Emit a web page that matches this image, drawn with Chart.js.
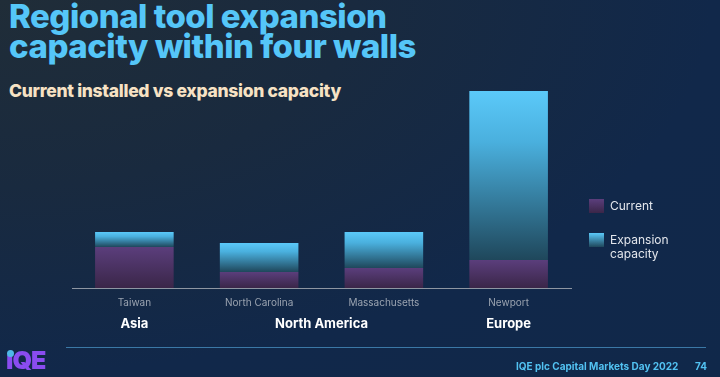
<!DOCTYPE html>
<html>
<head>
<meta charset="utf-8">
<script src="https://cdn.jsdelivr.net/npm/chart.js@4"></script>
<style>
  html, body { margin: 0; padding: 0; }
  body {
    width: 720px; height: 377px; overflow: hidden; position: relative;
    background: radial-gradient(ellipse at 0 0, #202d38 0%, #192a3f 35%, #11284a 70%, #10284a 100%);
    font-family: Inter, "Open Sans", sans-serif;
  }
  #titulo {
    position: absolute; left: 9px; top: 1px; margin: 0;
    font-size: 33px; line-height: 30px; font-weight: 800; color: #55c6f8;
    letter-spacing: -0.5px;
  }
  #subtitulo {
    position: absolute; left: 9px; top: 80px; margin: 0;
    font-size: 17.5px; font-weight: 800; color: #f7e2c4; letter-spacing: -0.3px;
  }
  #grafico { position: absolute; left: 0; top: 0; }
  .region {
    position: absolute; top: 315px; transform: translateX(-50%);
    color: #fff; font-size: 13px; font-weight: 700; white-space: nowrap;
  }
  .leyenda { position: absolute; left: 589px; color: #e3e6ec; font-size: 12px; line-height: 14px; }
  .leyenda span.caja { position: absolute; left: 0; top: 0; width: 15px; height: 14px; }
  .leyenda span.txt { position: absolute; left: 21px; top: 0; white-space: nowrap; }
  #pie-linea { position: absolute; left: 66px; top: 347px; width: 640px; height: 1px; background: #3b78a6; }
  #pie-texto { position: absolute; left: 516px; top: 360px; color: #52c2f2; font-size: 10px; font-weight: 700; white-space: nowrap; }
  #pie-num { position: absolute; left: 695px; top: 360px; color: #52c2f2; font-size: 10px; font-weight: 700; }
  #logo { position: absolute; left: 6px; top: 345px; font-size: 25px; font-weight: 900; color: #8a4cf0; letter-spacing: -1px; }
  #logo .punto { position: absolute; left: 1px; top: 5px; width: 7px; height: 7px; border-radius: 50%; background: #4fb8e8; }
</style>
</head>
<body>
<div id="titulo">Regional tool expansion<br>capacity within four walls</div>
<div id="subtitulo">Current installed vs expansion capacity</div>
<canvas id="grafico" width="720" height="377"></canvas>
<div id="regiones"></div>
<div class="leyenda" style="top:199px"><span class="caja" style="background:linear-gradient(#5b3e7c,#3a2648)"></span><span class="txt">Current</span></div>
<div class="leyenda" style="top:233px"><span class="caja" style="background:linear-gradient(#5bc9f9,#1f475b)"></span><span class="txt">Expansion<br>capacity</span></div>
<div id="pie-linea"></div>
<div id="logo"><span class="punto"></span>ıQE</div>
<div id="pie-texto">IQE plc Capital Markets Day 2022</div>
<div id="pie-num">74</div>
<script>
// Datos
const sitios = ['Taiwan', 'North Carolina', 'Massachusetts', 'Newport'];
const actual = [41, 16, 20, 28];
const expansion = [15, 29, 36, 169];
// Regiones: nombre y posición (índice de categoría, puede ser medio)
const regiones = ['Asia', 'North America', 'Europe'];
const regionesPos = [0, 1.5, 3];

// Degradado vertical para cada segmento de barra
function degradado(context, desde, hasta, stops) {
    const chart = context.chart;
    const y = chart.scales.y;
    if (!y || !chart.chartArea) return stops[0][1];
    const i = context.dataIndex;
    const arriba = y.getPixelForValue(hasta[i]);
    const abajo = y.getPixelForValue(desde[i]);
    const g = chart.ctx.createLinearGradient(0, arriba, 0, abajo);
    stops.forEach(s => g.addColorStop(s[0], s[1]));
    return g;
}

const totales = actual.map((v, i) => v + expansion[i]);
const ceros = actual.map(() => 0);

const chart = new Chart(document.getElementById('grafico'), {
    type: 'bar',
    data: {
        labels: sitios,
        datasets: [
            {
                label: 'Current',
                data: actual,
                backgroundColor: ctx => degradado(ctx, ceros, actual, [[0, '#5b3e7c'], [1, '#3a2648']])
            },
            {
                label: 'Expansion capacity',
                data: expansion,
                backgroundColor: ctx => degradado(ctx, actual, totales, [[0, '#5bc9f9'], [0.3, '#4ab0de'], [1, '#1f475b']])
            }
        ]
    },
    options: {
        responsive: false,
        animation: false,
        layout: { padding: { left: 72, right: 149, top: 88, bottom: 59 } },
        plugins: { legend: { display: false }, tooltip: { enabled: false } },
        datasets: { bar: { barPercentage: 0.63, categoryPercentage: 1 } },
        scales: {
            x: {
                stacked: true,
                grid: { display: false, drawTicks: false },
                border: { display: true, color: '#8e96a2', width: 1 },
                ticks: { color: '#9aa3b0', font: { family: 'Inter', size: 10 }, padding: 9 },
                afterFit: scale => { scale.height = 30; }
            },
            y: {
                stacked: true, display: false, min: 0, max: 200
            }
        }
    }
});

// Etiquetas de región bajo el eje
const xs = chart.scales.x;
const cont = document.getElementById('regiones');
regiones.forEach((r, k) => {
    const p = regionesPos[k];
    const a = xs.getPixelForValue(Math.floor(p));
    const b = xs.getPixelForValue(Math.ceil(p));
    const d = document.createElement('div');
    d.className = 'region';
    d.textContent = r;
    d.style.left = ((a + b) / 2) + 'px';
    cont.appendChild(d);
});
</script>
</body>
</html>
